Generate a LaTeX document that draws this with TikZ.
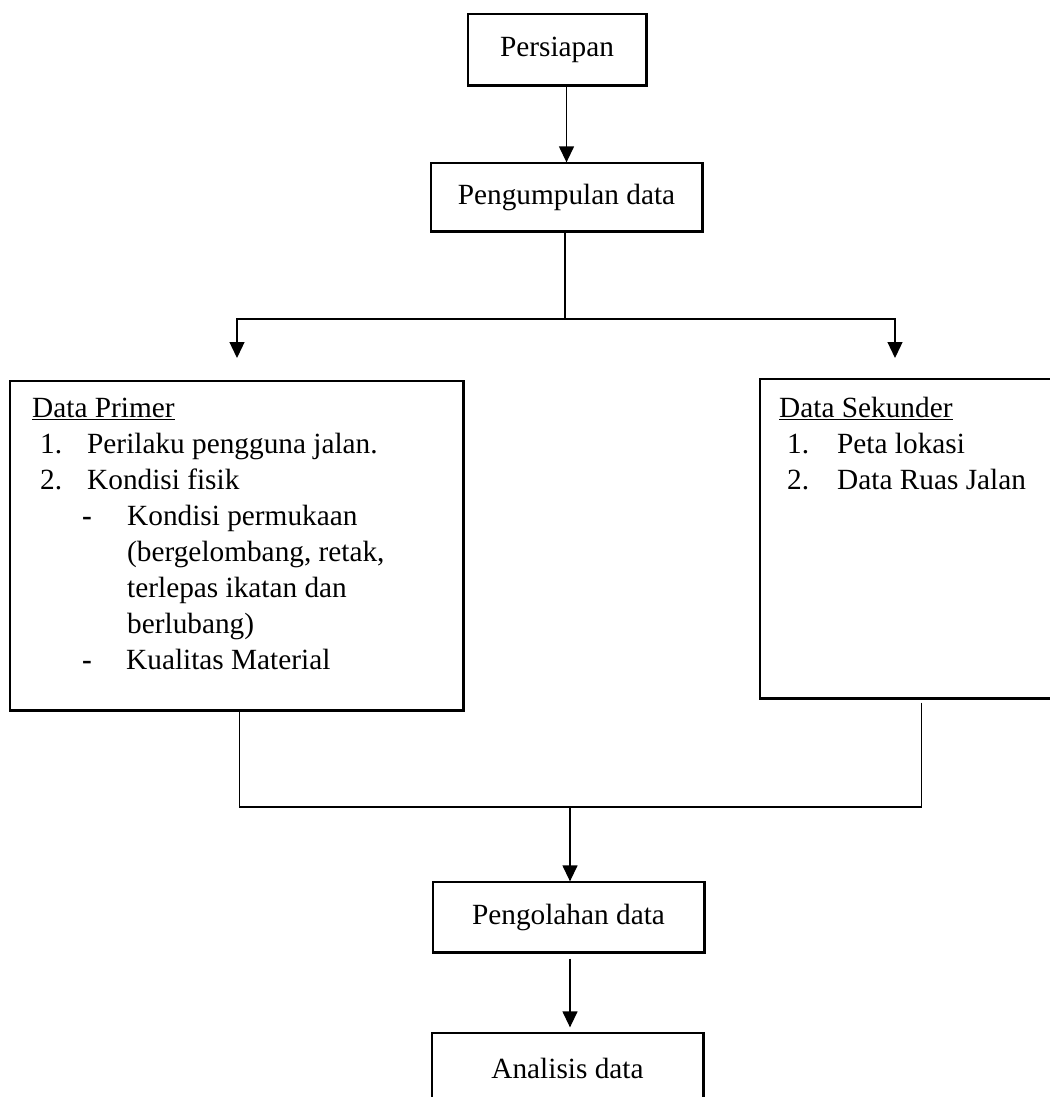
\documentclass[tikz,border=0pt]{standalone}
\usepackage{fontspec}
\setmainfont{Liberation Serif}
\usetikzlibrary{arrows.meta}
\tikzset{
  box/.style={draw,line width=1.3pt,minimum height=70pt,inner sep=0pt},
  edge/.style={line width=2.6pt},
  link/.style={line width=1.3pt},
  arr/.style={link,-{Triangle[width=15pt,length=16pt]}},
  list/.style={anchor=north west,inner sep=0pt,align=left}
}
\begin{document}
\begin{tikzpicture}[x=1pt,y=-1pt,font=\fontsize{29.3}{36}\selectfont]
\useasboundingbox (0,0) rectangle (1049,1097);
\node[box,minimum width=178pt,minimum height=71pt] (persiapan) at (557,49.5) {Persiapan};
\node[box,minimum width=271pt,minimum height=68pt] (kumpul) at (566.5,197) {Pengumpulan data};
\node[box,minimum width=453pt,minimum height=329pt] (primer) at (236.5,545.5) {};
\node[box,minimum width=310pt,minimum height=319pt] (sekunder) at (915,538.5) {};
\node[box,minimum width=271pt] (olah) at (568.5,917) {Pengolahan data};
\node[box,minimum width=271pt] (analisis) at (567.5,1068) {Analisis data};
\node[list] (primertxt) at (32,398) {\underline{Data Primer}\\
  \hspace*{8pt}\makebox[47pt][l]{1.}Perilaku pengguna jalan.\\
  \hspace*{8pt}\makebox[47pt][l]{2.}Kondisi fisik\\
  \hspace*{50pt}\makebox[45pt][l]{\textbf{-}}Kondisi permukaan\\
  \hspace*{95pt}(bergelombang, retak,\\
  \hspace*{95pt}terlepas ikatan dan\\
  \hspace*{95pt}berlubang)\\
  \hspace*{50pt}\makebox[44pt][l]{\textbf{-}}Kualitas Material};
\node[list] (sekundertxt) at (779,397) {\underline{Data Sekunder}\\
  \hspace*{8pt}\makebox[50pt][l]{1.}Peta lokasi\\
  \hspace*{8pt}\makebox[50pt][l]{2.}Data Ruas Jalan};
\foreach \n in {persiapan,kumpul,primer,sekunder,olah,analisis}
  \draw[edge] (\n.north east) -- (\n.south east) -- (\n.south west);
\coordinate (split) at (565,319);
\coordinate (pa) at (237,358);
\coordinate (sa) at (895,358);
\coordinate (join) at (570,807);
\draw[arr] (persiapan.south -| kumpul.north) -- (kumpul.north);
\draw[link] (kumpul.south -| split) -- (split);
\draw[arr] (split) -| (pa);
\draw[arr] (split) -| (sa);
\draw[link] (primer.south west) ++(230,0) |- (join);
\draw[link] (sekunder.south west) ++(162,4) |- (join);
\draw[arr] (join) -- (join |- olah.north);
\draw[arr,shorten <=6pt,shorten >=5pt] (olah.south -| join) -- (analisis.north -| join);
\end{tikzpicture}
\end{document}
